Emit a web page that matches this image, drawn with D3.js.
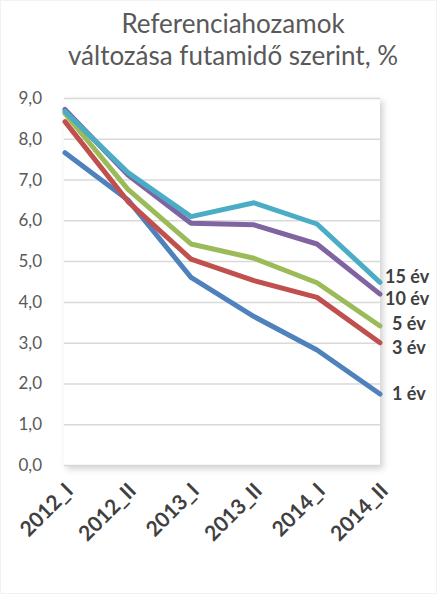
<!DOCTYPE html>
<html>
<head>
<meta charset="utf-8">
<script src="https://cdn.jsdelivr.net/npm/d3@7/dist/d3.min.js"></script>
<style>
  html, body { margin: 0; padding: 0; background: #fff; }
  svg { display: block; }
</style>
</head>
<body>
<svg id="chart" width="437" height="594"></svg>
<script>
// Periods on the x axis
const periods = ["2012_I", "2012_II", "2013_I", "2013_II", "2014_I", "2014_II"];

// Reference yields by maturity, %
const y1  = [7.66, 6.50, 4.60, 3.64, 2.82, 1.74];
const y3  = [8.42, 6.46, 5.05, 4.52, 4.11, 3.00];
const y5  = [8.62, 6.76, 5.42, 5.07, 4.47, 3.41];
const y10 = [8.72, 7.11, 5.93, 5.89, 5.42, 4.19];
const y15 = [8.67, 7.17, 6.09, 6.43, 5.91, 4.48];

const seriesNames  = ["1 év", "3 év", "5 év", "10 év", "15 év"];
const seriesValues = [y1, y3, y5, y10, y15];
const seriesColors = ["#4F81BD", "#C0504D", "#9BBB59", "#8064A2", "#4BACC6"];

const yTicks = [0, 1, 2, 3, 4, 5, 6, 7, 8, 9];
const titleLines = ["Referenciahozamok", "változása futamidő szerint, %"];

const svg = d3.select("#chart");
const W = 437, H = 594;
const plot = { left: 64, right: 380, top: 98, bottom: 465 };
const FONT = "Lato, 'Open Sans', sans-serif";

const x = d3.scalePoint().domain(periods).range([plot.left + 1, plot.right]);
const y = d3.scaleLinear().domain([0, 9]).range([plot.bottom, plot.top]);

// soft shadow behind the plot area
const defs = svg.append("defs");
const f = defs.append("filter").attr("id", "shadow")
  .attr("x", "-5%").attr("y", "-5%").attr("width", "115%").attr("height", "115%");
f.append("feDropShadow").attr("dx", 3).attr("dy", 3).attr("stdDeviation", 3)
  .attr("flood-color", "#000").attr("flood-opacity", 0.18);

svg.append("rect").attr("x", 0.5).attr("y", 0.5).attr("width", W - 1).attr("height", H - 1)
  .attr("fill", "#fff").attr("stroke", "#f2f2f2");

svg.append("rect")
  .attr("x", plot.left).attr("y", plot.top)
  .attr("width", plot.right - plot.left).attr("height", plot.bottom - plot.top + 1)
  .attr("fill", "#fff").attr("filter", "url(#shadow)");

// title
svg.append("text")
  .attr("x", 233).attr("y", 33)
  .attr("text-anchor", "middle")
  .attr("font-family", FONT)
  .attr("font-size", 26)
  .attr("fill", "#595959")
  .selectAll("tspan").data(titleLines).join("tspan")
  .attr("x", 233).attr("dy", (d, i) => i ? 32 : 0)
  .text(d => d);

// horizontal gridlines + y labels
const yAxis = d3.axisLeft(y).tickValues(yTicks)
  .tickSize(0)
  .tickFormat(d => d3.format(".1f")(d).replace(".", ","));
const gy = svg.append("g").attr("transform", `translate(${plot.left},0)`).call(yAxis);
gy.select(".domain").remove();
gy.selectAll(".tick line").attr("stroke", "#d9d9d9").attr("stroke-width", 1.5)
  .attr("x1", plot.right - plot.left).attr("x2", 0);
gy.selectAll(".tick text")
  .attr("x", -22)
  .attr("fill", "#595959")
  .attr("font-family", FONT)
  .attr("font-size", 17);

// x axis labels, rotated
const xAxis = d3.axisBottom(x).tickSize(0).tickPadding(0);
const gx = svg.append("g").attr("transform", `translate(0,${plot.bottom})`).call(xAxis);
gx.select(".domain").remove();
gx.selectAll(".tick text")
  .attr("fill", "#404040")
  .attr("font-family", FONT)
  .attr("font-weight", "bold")
  .attr("font-size", 21)
  .attr("text-anchor", "end")
  .attr("dy", 0)
  .attr("transform", "translate(9,27) rotate(-45)");

// lines
const line = d3.line().x((d, i) => x(periods[i])).y(d => y(d));
svg.append("g").selectAll("path").data(seriesValues).join("path")
  .attr("d", d => line(d))
  .attr("fill", "none")
  .attr("stroke", (d, i) => seriesColors[i])
  .attr("stroke-width", 5)
  .attr("stroke-linejoin", "round")
  .attr("stroke-linecap", "round");

// series names at the line ends
const labelNudge = { "1 év": [12, 0], "3 év": [12, 5], "5 év": [12, -2], "10 év": [5, 5], "15 év": [5, -6] };
svg.append("g").selectAll("text").data(seriesNames).join("text")
  .attr("x", (d, i) => x(periods[periods.length - 1]) + labelNudge[d][0])
  .attr("y", (d, i) => y(seriesValues[i][seriesValues[i].length - 1]) + labelNudge[d][1])
  .attr("dy", "0.35em")
  .attr("fill", "#404040")
  .attr("font-family", FONT)
  .attr("font-weight", "bold")
  .attr("font-size", 18)
  .text(d => d);
</script>
</body>
</html>
